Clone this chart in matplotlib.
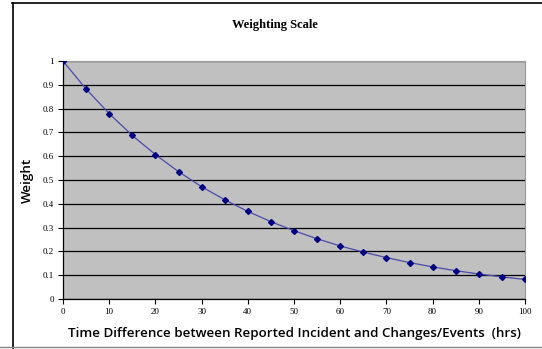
import numpy as np
import matplotlib
matplotlib.use('Agg')
from matplotlib import pyplot as plt
from matplotlib.lines import Line2D

# Data
hours = [0, 5, 10, 15, 20, 25, 30, 35, 40, 45, 50,
         55, 60, 65, 70, 75, 80, 85, 90, 95, 100]
weights = [1.0, 0.882, 0.779, 0.687, 0.607, 0.535, 0.472, 0.417, 0.368, 0.325, 0.287,
           0.253, 0.223, 0.197, 0.174, 0.153, 0.135, 0.119, 0.105, 0.093, 0.082]
x_ticks = list(range(0, 101, 10))
y_ticks = [0, 0.1, 0.2, 0.3, 0.4, 0.5, 0.6, 0.7, 0.8, 0.9, 1]
y_tick_labels = ['0', '0.1', '0.2', '0.3', '0.4', '0.5', '0.6', '0.7', '0.8', '0.9', '1']

W, H = 542, 349
fig = plt.figure(figsize=(W / 100, H / 100), dpi=100)
fig.patch.set_facecolor('white')

ax = fig.add_axes([63 / W, 1 - 299 / H, (525 - 63) / W, (299 - 61) / H])
ax.set_facecolor('#c0c0c0')

# Gridlines
ax.set_axisbelow(True)
ax.yaxis.grid(True, color='black', linewidth=0.9)

ax.plot(hours, weights, color='#4a4aa8', linewidth=0.9, zorder=3)
ax.plot(hours, weights, linestyle='none', marker='D', markersize=3.0,
        color='#000080', zorder=4)

ax.set_xlim(0, 100)
ax.set_ylim(0, 1)
ax.set_xticks(x_ticks)
ax.set_yticks(y_ticks)
ax.set_yticklabels(y_tick_labels)

for sp in ['top', 'right']:
    ax.spines[sp].set_color('#999999')
    ax.spines[sp].set_linewidth(0.8)
for sp in ['left', 'bottom']:
    ax.spines[sp].set_color('black')
    ax.spines[sp].set_linewidth(0.9)

ax.tick_params(axis='both', direction='out', length=3.5, width=0.8, color='black',
               labelsize=6.5, pad=3)
for lab in ax.get_xticklabels() + ax.get_yticklabels():
    lab.set_fontfamily('Liberation Serif')

ax.set_xlabel('Time Difference between Reported Incident and Changes/Events  (hrs)',
              fontsize=9.6, family='Open Sans', fontweight='semibold', labelpad=8)
ax.set_ylabel('Weight', fontsize=9.6, family='Open Sans', fontweight='semibold',
              labelpad=6)

fig.text(275 / W, 1 - 25 / H, 'Weighting Scale', ha='center', va='center',
         fontsize=9, family='Liberation Serif', fontweight='bold')

# Chart frame like the spreadsheet border
fig.add_artist(Line2D([12.5 / W, 12.5 / W], [0, 1 - 2.5 / H], transform=fig.transFigure,
                      color='black', linewidth=1.2))
fig.add_artist(Line2D([12 / W, 1], [1 - 2.5 / H, 1 - 2.5 / H], transform=fig.transFigure,
                      color='black', linewidth=1.2))
fig.add_artist(Line2D([0, 1], [1 - 347 / H, 1 - 347 / H], transform=fig.transFigure,
                      color='#888888', linewidth=1.0))

fig.savefig('out.png', dpi=100)
